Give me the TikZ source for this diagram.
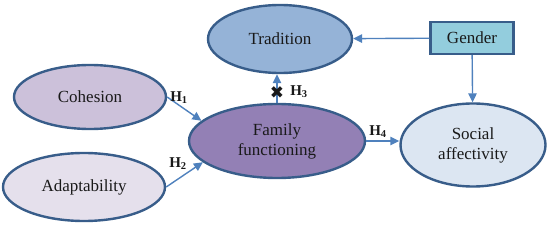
\documentclass[tikz,border=0pt]{standalone}
\usepackage{fontspec}
\setmainfont{Liberation Serif}
\newfontfamily\symfont{DejaVu Sans}
\usepackage{tikz}
\usetikzlibrary{
	arrows.meta,
	calc,
	shapes.geometric
}
\definecolor{EdgeBlue}{RGB}{56,93,138}
\definecolor{ArrowBlue}{RGB}{79,129,189}
\definecolor{TradFill}{RGB}{149,179,215}
\definecolor{CohFill}{RGB}{204,193,218}
\definecolor{AdapFill}{RGB}{229,224,236}
\definecolor{FamFill}{RGB}{147,128,181}
\definecolor{SocFill}{RGB}{220,230,242}
\definecolor{GenFill}{RGB}{147,205,221}

\begin{document}
\begin{tikzpicture}[x=1pt,y=-1pt,
		every node/.style={font=\fontsize{17}{20}\selectfont,text=black!90},
		oval/.style={ellipse,draw=EdgeBlue,line width=2.4pt,inner sep=0pt,align=center},
		arr/.style={-{Triangle[length=9pt,width=8.5pt]},ArrowBlue,line width=1.4pt},
		hyp/.style={font=\fontsize{15}{15}\selectfont\bfseries,inner sep=0pt}]
		\useasboundingbox (0,0) rectangle (550,227);
		
		% variables
		\node[oval,fill=TradFill,minimum width=144pt,minimum height=68pt] (trad) at (280,39) {Tradition};
		\node[oval,fill=CohFill,minimum width=152pt,minimum height=64pt] (coh) at (90,97) {Cohesion};
		\node[oval,fill=AdapFill,minimum width=162pt,minimum height=68pt] (adap) at (84,187) {Adaptability};
		\node[oval,fill=FamFill,minimum width=176pt,minimum height=74pt] (fam) at (277,141) {Family\\functioning};
		\node[oval,fill=SocFill,minimum width=145pt,minimum height=83pt] (soc) at (473,145) {Social\\affectivity};
		\node[rectangle,draw=EdgeBlue,line width=2.4pt,fill=GenFill,minimum width=83pt,minimum height=32pt] (gen) at (472,38) {Gender};
		
		% paths
		\draw[arr] (coh.east) -- (fam.165);
		\draw[arr] (adap.east) -- (fam.196);
		\draw[arr] (fam.north) -- (fam.north |- trad.south);
		\draw[arr] (fam.east) -- (fam.east -| soc.west);
		\draw[arr] (gen) -- (trad);
		\draw[arr] (gen) -- (soc);
		
		% rejected path
		\node[font=\symfont\fontsize{17}{17}\selectfont,inner sep=0pt] (cut) at ($(fam.north)!0.35!(fam.north |- trad.south)$) {✖};
		
		% hypotheses
		\node[hyp] (h1) at (179,98) {H\textsubscript{1}};
		\node[hyp] (h2) at (178,164) {H\textsubscript{2}};
		\node[hyp] (h3) at (299,92) {H\textsubscript{3}};
		\node[hyp] (h4) at (378,132) {H\textsubscript{4}};
	\end{tikzpicture}
\end{document}
